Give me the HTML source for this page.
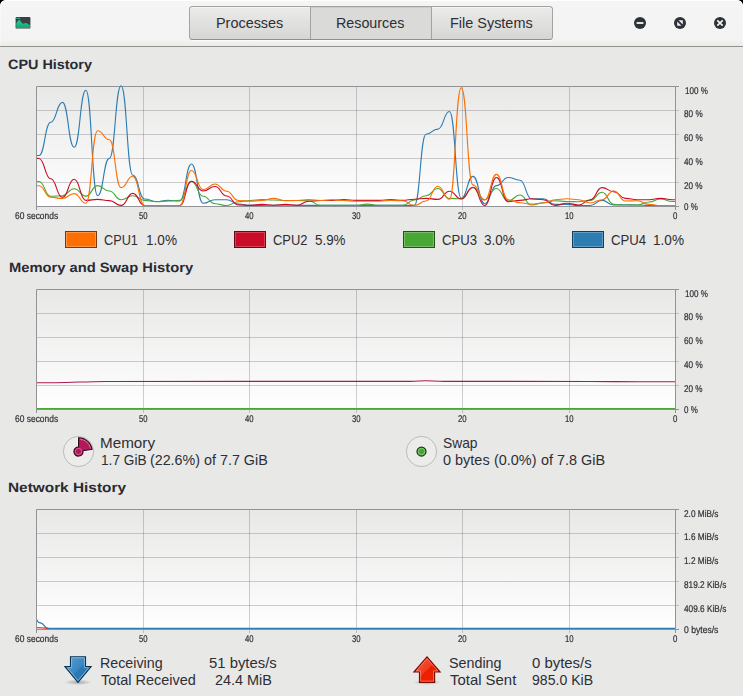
<!DOCTYPE html>
<html><head><meta charset="utf-8"><title>System Monitor</title>
<style>
html,body{margin:0;padding:0;}
body{width:743px;height:696px;overflow:hidden;background:#000;position:relative;font-family:"Liberation Sans",sans-serif;color:#2f2f33;}
#win{position:absolute;left:0;top:0;width:743px;height:696px;background:#e8e8e7;border-radius:6px 6px 0 0;overflow:hidden;}
#tb{position:absolute;left:0;top:0;width:743px;height:46px;background:linear-gradient(#f5f5f5 0,#f3f3f3 40px,#ebebea 46px);border-bottom:1px solid #92928d;border-radius:6px 6px 0 0;box-shadow:inset 0 1px 0 #ffffff, inset 1px 0 0 rgba(255,255,255,.35), inset -1px 0 0 rgba(255,255,255,.35);}
.tabs{position:absolute;left:189px;top:6px;width:364px;height:34px;box-sizing:border-box;border:1px solid #a3a3a0;border-bottom-color:#8f8f8b;border-radius:3.5px;background:linear-gradient(#ebebea,#d6d6d4);box-shadow:inset 0 1px 0 #f4f4f3, 0 1px 0 rgba(255,255,255,.7);}
.tab{position:absolute;top:0;height:32px;line-height:31px;text-align:center;font-size:14.4px;color:#303036;}
.tab.act{background:#dadad8;box-shadow:inset 0 1px 1px rgba(0,0,0,.07);border-left:1px solid #a3a3a0;border-right:1px solid #a3a3a0;box-sizing:border-box;}
.sw{position:absolute;top:231px;width:32px;height:17px;box-sizing:border-box;}
svg{position:absolute;left:0;top:0;}
.x{position:absolute;white-space:nowrap;transform-origin:0 0;line-height:20px;}
.tabt{font-size:14.4px;color:#2e2e35;}
.h{font-weight:bold;font-size:13.5px;color:#2a2a31;text-rendering:geometricPrecision;}
.t{font-size:14.3px;color:#2e2e35;}
.ax{font-size:9.8px;color:#2e2e33;text-rendering:geometricPrecision;-webkit-text-stroke:0.2px #2e2e33;}
#axl{position:absolute;left:0;top:0;width:743px;height:696px;will-change:transform;}
</style></head><body>
<div id="win">
<div id="tb">
  <div class="tabs">
    <div class="tab" style="left:0;width:120px"></div>
    <div class="tab act" style="left:120px;width:122px"></div>
    <div class="tab" style="left:242px;width:120px"></div>
  </div>
</div>

<svg width="743" height="696" viewBox="0 0 743 696">
<defs>
<linearGradient id="bg" x1="0" y1="0" x2="0" y2="1"><stop offset="0" stop-color="#e8e8e7"/><stop offset="1" stop-color="#ffffff"/></linearGradient>
<clipPath id="c1"><rect x="37" y="84" width="638" height="123"/></clipPath>
<clipPath id="c2"><rect x="37" y="289" width="638" height="121"/></clipPath>
<clipPath id="c3"><rect x="37" y="509" width="638" height="121"/></clipPath>

<linearGradient id="gi" x1="0" y1="0" x2="0" y2="1"><stop offset="0" stop-color="#21cf91"/><stop offset="1" stop-color="#11a670"/></linearGradient>
<linearGradient id="ba" x1="0" y1="0" x2="1" y2="1"><stop offset="0" stop-color="#5a9dd0"/><stop offset=".5" stop-color="#3a86c0"/><stop offset=".52" stop-color="#2b79b4"/><stop offset="1" stop-color="#2b79b4"/></linearGradient>
<linearGradient id="ra" x1="0" y1="0" x2="1" y2="1"><stop offset="0" stop-color="#f85a40"/><stop offset=".5" stop-color="#f03a20"/><stop offset=".52" stop-color="#ec2000"/><stop offset="1" stop-color="#ec2000"/></linearGradient>
<radialGradient id="sh"><stop offset="0" stop-color="#000" stop-opacity=".28"/><stop offset="1" stop-color="#000" stop-opacity="0"/></radialGradient>

</defs>
<rect x="36" y="86" width="640" height="121" fill="url(#bg)"/>
<line x1="36.5" y1="110.5" x2="679.0" y2="110.5" stroke="#4c4e58" stroke-opacity="0.27" stroke-width="1"/>
<line x1="36.5" y1="134.5" x2="679.0" y2="134.5" stroke="#4c4e58" stroke-opacity="0.27" stroke-width="1"/>
<line x1="36.5" y1="158.5" x2="679.0" y2="158.5" stroke="#4c4e58" stroke-opacity="0.27" stroke-width="1"/>
<line x1="36.5" y1="182.5" x2="679.0" y2="182.5" stroke="#4c4e58" stroke-opacity="0.27" stroke-width="1"/>
<line x1="143.5" y1="86.5" x2="143.5" y2="210.0" stroke="#4c4e58" stroke-opacity="0.27" stroke-width="1"/>
<line x1="249.5" y1="86.5" x2="249.5" y2="210.0" stroke="#4c4e58" stroke-opacity="0.27" stroke-width="1"/>
<line x1="356.5" y1="86.5" x2="356.5" y2="210.0" stroke="#4c4e58" stroke-opacity="0.27" stroke-width="1"/>
<line x1="462.5" y1="86.5" x2="462.5" y2="210.0" stroke="#4c4e58" stroke-opacity="0.27" stroke-width="1"/>
<line x1="569.5" y1="86.5" x2="569.5" y2="210.0" stroke="#4c4e58" stroke-opacity="0.27" stroke-width="1"/>
<path d="M36.5,210.0 V86.5 H679.0 M675.5,86.5 V210.0 M36.5,206.5 H679.0" fill="none" stroke="#939397" stroke-width="1"/>
<g clip-path="url(#c1)" fill="none" stroke-width="1.12" stroke-linejoin="round"><path d="M27.24,155.00 C33.10,155.00 33.10,155.50 38.97,155.50 C44.84,155.50 44.84,122.20 50.70,122.20 C56.56,122.20 56.56,102.40 62.43,102.40 C68.30,102.40 68.30,147.20 74.16,147.20 C80.03,147.20 80.03,90.30 85.89,90.30 C91.75,90.30 91.75,195.80 97.62,195.80 C103.48,195.80 103.48,158.40 109.35,158.40 C115.22,158.40 115.22,85.70 121.08,85.70 C126.94,85.70 126.94,175.30 132.81,175.30 C138.68,175.30 138.68,199.00 144.54,199.00 C150.41,199.00 150.41,201.50 156.27,201.50 C162.13,201.50 162.13,200.40 168.00,200.40 C173.87,200.40 173.87,201.00 179.73,201.00 C185.59,201.00 185.59,164.00 191.46,164.00 C197.32,164.00 197.32,203.30 203.19,203.30 C209.06,203.30 209.06,199.70 214.92,199.70 C220.79,199.70 220.79,199.70 226.65,199.70 C232.51,199.70 232.51,204.00 238.38,204.00 C244.25,204.00 244.25,205.40 250.11,205.40 C255.98,205.40 255.98,205.40 261.84,205.40 C267.71,205.40 267.71,205.20 273.57,205.20 C279.44,205.20 279.44,205.20 285.30,205.20 C291.16,205.20 291.16,205.40 297.03,205.40 C302.89,205.40 302.89,205.40 308.76,205.40 C314.62,205.40 314.62,205.40 320.49,205.40 C326.36,205.40 326.36,205.40 332.22,205.40 C338.09,205.40 338.09,205.40 343.95,205.40 C349.82,205.40 349.82,205.40 355.68,205.40 C361.55,205.40 361.55,205.40 367.41,205.40 C373.27,205.40 373.27,205.40 379.14,205.40 C385.00,205.40 385.00,205.40 390.87,205.40 C396.74,205.40 396.74,205.40 402.60,205.40 C408.47,205.40 408.47,205.40 414.33,205.40 C420.20,205.40 420.20,134.30 426.06,134.30 C431.93,134.30 431.93,129.10 437.79,129.10 C443.65,129.10 443.65,111.50 449.52,111.50 C455.38,111.50 455.38,198.40 461.25,198.40 C467.12,198.40 467.12,176.40 472.98,176.40 C478.85,176.40 478.85,203.70 484.71,203.70 C490.58,203.70 490.58,185.60 496.44,185.60 C502.31,185.60 502.31,177.50 508.17,177.50 C514.04,177.50 514.04,180.20 519.90,180.20 C525.76,180.20 525.76,199.00 531.63,199.00 C537.50,199.00 537.50,198.80 543.36,198.80 C549.23,198.80 549.23,204.40 555.09,204.40 C560.96,204.40 560.96,204.40 566.82,204.40 C572.69,204.40 572.69,205.50 578.55,205.50 C584.42,205.50 584.42,205.50 590.28,205.50 C596.14,205.50 596.14,200.40 602.01,200.40 C607.88,200.40 607.88,205.00 613.74,205.00 C619.61,205.00 619.61,204.70 625.47,204.70 C631.34,204.70 631.34,205.00 637.20,205.00 C643.07,205.00 643.07,205.40 648.93,205.40 C654.80,205.40 654.80,205.50 660.66,205.50 C666.53,205.50 666.53,205.50 672.39,205.50 C678.26,205.50 678.26,205.50 684.12,205.50" stroke="#2d7db3"/><path d="M27.24,181.00 C33.10,181.00 33.10,181.50 38.97,181.50 C44.84,181.50 44.84,196.30 50.70,196.30 C56.56,196.30 56.56,195.70 62.43,195.70 C68.30,195.70 68.30,188.70 74.16,188.70 C80.03,188.70 80.03,196.10 85.89,196.10 C91.75,196.10 91.75,185.60 97.62,185.60 C103.48,185.60 103.48,191.00 109.35,191.00 C115.22,191.00 115.22,199.70 121.08,199.70 C126.94,199.70 126.94,195.70 132.81,195.70 C138.68,195.70 138.68,200.40 144.54,200.40 C150.41,200.40 150.41,201.70 156.27,201.70 C162.13,201.70 162.13,201.00 168.00,201.00 C173.87,201.00 173.87,200.40 179.73,200.40 C185.59,200.40 185.59,181.50 191.46,181.50 C197.32,181.50 197.32,196.30 203.19,196.30 C209.06,196.30 209.06,203.70 214.92,203.70 C220.79,203.70 220.79,205.50 226.65,205.50 C232.51,205.50 232.51,201.70 238.38,201.70 C244.25,201.70 244.25,200.50 250.11,200.50 C255.98,200.50 255.98,199.60 261.84,199.60 C267.71,199.60 267.71,200.00 273.57,200.00 C279.44,200.00 279.44,200.50 285.30,200.50 C291.16,200.50 291.16,200.50 297.03,200.50 C302.89,200.50 302.89,200.80 308.76,200.80 C314.62,200.80 314.62,205.40 320.49,205.40 C326.36,205.40 326.36,205.40 332.22,205.40 C338.09,205.40 338.09,205.40 343.95,205.40 C349.82,205.40 349.82,205.40 355.68,205.40 C361.55,205.40 361.55,204.10 367.41,204.10 C373.27,204.10 373.27,205.40 379.14,205.40 C385.00,205.40 385.00,205.40 390.87,205.40 C396.74,205.40 396.74,205.40 402.60,205.40 C408.47,205.40 408.47,200.00 414.33,200.00 C420.20,200.00 420.20,195.70 426.06,195.70 C431.93,195.70 431.93,188.50 437.79,188.50 C443.65,188.50 443.65,198.40 449.52,198.40 C455.38,198.40 455.38,198.80 461.25,198.80 C467.12,198.80 467.12,187.60 472.98,187.60 C478.85,187.60 478.85,199.70 484.71,199.70 C490.58,199.70 490.58,188.50 496.44,188.50 C502.31,188.50 502.31,201.00 508.17,201.00 C514.04,201.00 514.04,195.00 519.90,195.00 C525.76,195.00 525.76,205.00 531.63,205.00 C537.50,205.00 537.50,202.80 543.36,202.80 C549.23,202.80 549.23,200.80 555.09,200.80 C560.96,200.80 560.96,201.50 566.82,201.50 C572.69,201.50 572.69,201.70 578.55,201.70 C584.42,201.70 584.42,200.40 590.28,200.40 C596.14,200.40 596.14,192.30 602.01,192.30 C607.88,192.30 607.88,204.40 613.74,204.40 C619.61,204.40 619.61,205.00 625.47,205.00 C631.34,205.00 631.34,205.00 637.20,205.00 C643.07,205.00 643.07,202.00 648.93,202.00 C654.80,202.00 654.80,199.00 660.66,199.00 C666.53,199.00 666.53,201.50 672.39,201.50 C678.26,201.50 678.26,201.50 684.12,201.50" stroke="#49a835"/><path d="M27.24,157.00 C33.10,157.00 33.10,158.50 38.97,158.50 C44.84,158.50 44.84,178.80 50.70,178.80 C56.56,178.80 56.56,197.40 62.43,197.40 C68.30,197.40 68.30,179.20 74.16,179.20 C80.03,179.20 80.03,200.40 85.89,200.40 C91.75,200.40 91.75,199.40 97.62,199.40 C103.48,199.40 103.48,200.60 109.35,200.60 C115.22,200.60 115.22,205.40 121.08,205.40 C126.94,205.40 126.94,193.40 132.81,193.40 C138.68,193.40 138.68,205.50 144.54,205.50 C150.41,205.50 150.41,205.50 156.27,205.50 C162.13,205.50 162.13,205.50 168.00,205.50 C173.87,205.50 173.87,205.50 179.73,205.50 C185.59,205.50 185.59,181.30 191.46,181.30 C197.32,181.30 197.32,191.00 203.19,191.00 C209.06,191.00 209.06,186.50 214.92,186.50 C220.79,186.50 220.79,196.00 226.65,196.00 C232.51,196.00 232.51,204.90 238.38,204.90 C244.25,204.90 244.25,205.40 250.11,205.40 C255.98,205.40 255.98,204.40 261.84,204.40 C267.71,204.40 267.71,205.20 273.57,205.20 C279.44,205.20 279.44,204.40 285.30,204.40 C291.16,204.40 291.16,205.20 297.03,205.20 C302.89,205.20 302.89,201.20 308.76,201.20 C314.62,201.20 314.62,200.50 320.49,200.50 C326.36,200.50 326.36,200.40 332.22,200.40 C338.09,200.40 338.09,199.60 343.95,199.60 C349.82,199.60 349.82,200.40 355.68,200.40 C361.55,200.40 361.55,200.40 367.41,200.40 C373.27,200.40 373.27,200.40 379.14,200.40 C385.00,200.40 385.00,199.60 390.87,199.60 C396.74,199.60 396.74,200.40 402.60,200.40 C408.47,200.40 408.47,199.20 414.33,199.20 C420.20,199.20 420.20,198.40 426.06,198.40 C431.93,198.40 431.93,199.40 437.79,199.40 C443.65,199.40 443.65,191.20 449.52,191.20 C455.38,191.20 455.38,199.00 461.25,199.00 C467.12,199.00 467.12,187.30 472.98,187.30 C478.85,187.30 478.85,205.50 484.71,205.50 C490.58,205.50 490.58,177.50 496.44,177.50 C502.31,177.50 502.31,201.70 508.17,201.70 C514.04,201.70 514.04,200.40 519.90,200.40 C525.76,200.40 525.76,198.80 531.63,198.80 C537.50,198.80 537.50,199.70 543.36,199.70 C549.23,199.70 549.23,205.50 555.09,205.50 C560.96,205.50 560.96,203.30 566.82,203.30 C572.69,203.30 572.69,205.00 578.55,205.00 C584.42,205.00 584.42,199.70 590.28,199.70 C596.14,199.70 596.14,187.60 602.01,187.60 C607.88,187.60 607.88,191.60 613.74,191.60 C619.61,191.60 619.61,198.40 625.47,198.40 C631.34,198.40 631.34,199.70 637.20,199.70 C643.07,199.70 643.07,199.70 648.93,199.70 C654.80,199.70 654.80,198.40 660.66,198.40 C666.53,198.40 666.53,199.70 672.39,199.70 C678.26,199.70 678.26,199.70 684.12,199.70" stroke="#cb0c29"/><path d="M27.24,185.00 C33.10,185.00 33.10,185.80 38.97,185.80 C44.84,185.80 44.84,197.30 50.70,197.30 C56.56,197.30 56.56,198.40 62.43,198.40 C68.30,198.40 68.30,193.60 74.16,193.60 C80.03,193.60 80.03,203.30 85.89,203.30 C91.75,203.30 91.75,130.80 97.62,130.80 C103.48,130.80 103.48,139.80 109.35,139.80 C115.22,139.80 115.22,187.60 121.08,187.60 C126.94,187.60 126.94,176.30 132.81,176.30 C138.68,176.30 138.68,205.50 144.54,205.50 C150.41,205.50 150.41,205.50 156.27,205.50 C162.13,205.50 162.13,205.50 168.00,205.50 C173.87,205.50 173.87,205.50 179.73,205.50 C185.59,205.50 185.59,170.50 191.46,170.50 C197.32,170.50 197.32,189.60 203.19,189.60 C209.06,189.60 209.06,184.00 214.92,184.00 C220.79,184.00 220.79,191.20 226.65,191.20 C232.51,191.20 232.51,200.50 238.38,200.50 C244.25,200.50 244.25,201.20 250.11,201.20 C255.98,201.20 255.98,200.50 261.84,200.50 C267.71,200.50 267.71,198.40 273.57,198.40 C279.44,198.40 279.44,200.80 285.30,200.80 C291.16,200.80 291.16,200.50 297.03,200.50 C302.89,200.50 302.89,199.60 308.76,199.60 C314.62,199.60 314.62,200.50 320.49,200.50 C326.36,200.50 326.36,199.70 332.22,199.70 C338.09,199.70 338.09,200.50 343.95,200.50 C349.82,200.50 349.82,201.20 355.68,201.20 C361.55,201.20 361.55,201.20 367.41,201.20 C373.27,201.20 373.27,201.20 379.14,201.20 C385.00,201.20 385.00,200.40 390.87,200.40 C396.74,200.40 396.74,200.80 402.60,200.80 C408.47,200.80 408.47,205.40 414.33,205.40 C420.20,205.40 420.20,201.00 426.06,201.00 C431.93,201.00 431.93,186.20 437.79,186.20 C443.65,186.20 443.65,199.30 449.52,199.30 C455.38,199.30 455.38,87.70 461.25,87.70 C467.12,87.70 467.12,184.90 472.98,184.90 C478.85,184.90 478.85,200.00 484.71,200.00 C490.58,200.00 490.58,174.40 496.44,174.40 C502.31,174.40 502.31,199.70 508.17,199.70 C514.04,199.70 514.04,202.80 519.90,202.80 C525.76,202.80 525.76,204.10 531.63,204.10 C537.50,204.10 537.50,203.00 543.36,203.00 C549.23,203.00 549.23,199.70 555.09,199.70 C560.96,199.70 560.96,198.80 566.82,198.80 C572.69,198.80 572.69,199.70 578.55,199.70 C584.42,199.70 584.42,203.00 590.28,203.00 C596.14,203.00 596.14,199.70 602.01,199.70 C607.88,199.70 607.88,191.00 613.74,191.00 C619.61,191.00 619.61,201.00 625.47,201.00 C631.34,201.00 631.34,200.80 637.20,200.80 C643.07,200.80 643.07,204.40 648.93,204.40 C654.80,204.40 654.80,205.50 660.66,205.50 C666.53,205.50 666.53,205.50 672.39,205.50 C678.26,205.50 678.26,205.50 684.12,205.50" stroke="#ff6e00"/></g>
<rect x="36" y="289" width="640" height="121" fill="url(#bg)"/>
<line x1="36.5" y1="313.5" x2="679.0" y2="313.5" stroke="#4c4e58" stroke-opacity="0.27" stroke-width="1"/>
<line x1="36.5" y1="337.5" x2="679.0" y2="337.5" stroke="#4c4e58" stroke-opacity="0.27" stroke-width="1"/>
<line x1="36.5" y1="361.5" x2="679.0" y2="361.5" stroke="#4c4e58" stroke-opacity="0.27" stroke-width="1"/>
<line x1="36.5" y1="385.5" x2="679.0" y2="385.5" stroke="#4c4e58" stroke-opacity="0.27" stroke-width="1"/>
<line x1="143.5" y1="289.5" x2="143.5" y2="413.0" stroke="#4c4e58" stroke-opacity="0.27" stroke-width="1"/>
<line x1="249.5" y1="289.5" x2="249.5" y2="413.0" stroke="#4c4e58" stroke-opacity="0.27" stroke-width="1"/>
<line x1="356.5" y1="289.5" x2="356.5" y2="413.0" stroke="#4c4e58" stroke-opacity="0.27" stroke-width="1"/>
<line x1="462.5" y1="289.5" x2="462.5" y2="413.0" stroke="#4c4e58" stroke-opacity="0.27" stroke-width="1"/>
<line x1="569.5" y1="289.5" x2="569.5" y2="413.0" stroke="#4c4e58" stroke-opacity="0.27" stroke-width="1"/>
<path d="M36.5,413.0 V289.5 H679.0 M675.5,289.5 V413.0 M36.5,409.5 H679.0" fill="none" stroke="#939397" stroke-width="1"/>
<g clip-path="url(#c2)" fill="none"><path d="M36,382.7 L55,382.7 C75,382.5 85,381.6 105,381.45 L410,381.35 C418,381.3 420,380.7 426,380.7 C432,380.7 434,381.2 445,381.35 L590,381.45 C610,381.5 620,381.7 640,381.7 L676,381.7" stroke="#ab1852" stroke-width="1.1"/><line x1="36" y1="408.5" x2="676" y2="408.5" stroke="#49a835" stroke-width="1.25"/></g>
<rect x="36" y="509" width="640" height="121" fill="url(#bg)"/>
<line x1="36.5" y1="533.5" x2="679.0" y2="533.5" stroke="#4c4e58" stroke-opacity="0.27" stroke-width="1"/>
<line x1="36.5" y1="557.5" x2="679.0" y2="557.5" stroke="#4c4e58" stroke-opacity="0.27" stroke-width="1"/>
<line x1="36.5" y1="581.5" x2="679.0" y2="581.5" stroke="#4c4e58" stroke-opacity="0.27" stroke-width="1"/>
<line x1="36.5" y1="605.5" x2="679.0" y2="605.5" stroke="#4c4e58" stroke-opacity="0.27" stroke-width="1"/>
<line x1="143.5" y1="509.5" x2="143.5" y2="633.0" stroke="#4c4e58" stroke-opacity="0.27" stroke-width="1"/>
<line x1="249.5" y1="509.5" x2="249.5" y2="633.0" stroke="#4c4e58" stroke-opacity="0.27" stroke-width="1"/>
<line x1="356.5" y1="509.5" x2="356.5" y2="633.0" stroke="#4c4e58" stroke-opacity="0.27" stroke-width="1"/>
<line x1="462.5" y1="509.5" x2="462.5" y2="633.0" stroke="#4c4e58" stroke-opacity="0.27" stroke-width="1"/>
<line x1="569.5" y1="509.5" x2="569.5" y2="633.0" stroke="#4c4e58" stroke-opacity="0.27" stroke-width="1"/>
<path d="M36.5,633.0 V509.5 H679.0 M675.5,509.5 V633.0 M36.5,629.5 H679.0" fill="none" stroke="#939397" stroke-width="1"/>
<g clip-path="url(#c3)" fill="none"><path d="M36,627.6 C40,627.6 43,627.8 48.5,628.5" stroke="#ee3a2c" stroke-width="1.3"/><path d="M36,618.4 C37,620.6 37.5,621.8 38.5,622.3 C40,622.9 41,623 41.8,623.4 C44.5,624.6 45,628.45 48.5,628.45 L676,628.45" stroke="#2d7db3" stroke-width="1.25"/></g>

<!-- app icon -->
<g>
<rect x="15.6" y="17" width="14.8" height="11.6" rx="1.2" fill="#3b4045"/>
<path d="M16.2,28 V23.5 C17.5,21.5 18.2,20 19.2,20 C20.6,20 21.2,23.3 23,23.6 C24.3,23.8 25,22.9 26,22.9 C27.2,22.9 28.5,24.6 29.9,24.9 V28 Z" fill="url(#gi)"/>
<rect x="16.3" y="17.9" width="4" height="0.9" fill="#1fc58b"/>
</g>
<!-- window buttons -->
<g fill="#2d3237">
<circle cx="640" cy="23" r="6"/><circle cx="680" cy="23" r="6"/><circle cx="720" cy="23" r="6"/>
</g>
<rect x="636.6" y="22" width="6.8" height="2" fill="#e4e4e4"/>
<path d="M678.6,20.2 H682.8 V24.4 Z M677.2,21.6 V25.8 H681.4 Z" fill="#f0f0f0"/>
<path d="M717.3,20.3 L722.7,25.7 M722.7,20.3 L717.3,25.7" stroke="#f4f4f4" stroke-width="1.7" fill="none"/>

<!-- memory pie -->
<circle cx="78.5" cy="451.5" r="15.1" fill="#ececeb" stroke="#b4b4b4" stroke-width="0.9"/>
<path d="M78.5,437.8 A13.7,13.7 0 0 1 92.05,449.45 L83.05,450.81 A4.6,4.6 0 1 1 78.5,446.9 Z" fill="#b2185a" stroke="#2e0718" stroke-width="1.1" stroke-linejoin="round"/>
<path d="M79.9,439.2 A12.4,12.4 0 0 1 90.6,448.6" fill="none" stroke="#dc7aa3" stroke-width="0.9"/>
<circle cx="78.5" cy="451.5" r="3.2" fill="none" stroke="#dc7aa3" stroke-width="0.8"/>
<path d="M77.5,437.6 V446.4" stroke="#ffffff" stroke-width="0.9" opacity=".85"/>
<path d="M83.6,451.7 L92.6,450.4" stroke="#ffffff" stroke-width="0.8" opacity=".6"/>
<!-- swap -->
<circle cx="421.5" cy="451.5" r="15.1" fill="#ececeb" stroke="#b4b4b4" stroke-width="0.9"/>
<circle cx="421.5" cy="451.5" r="4.5" fill="#45a52f" stroke="#1a3912" stroke-width="1.25"/>
<circle cx="421.5" cy="451.5" r="3.2" fill="none" stroke="#93d482" stroke-width="0.8"/>

<!-- down arrow -->
<ellipse cx="78" cy="682.3" rx="14" ry="2.8" fill="url(#sh)"/>
<path d="M70.5,656.7 H85.5 V666.6 H91.1 L78,682.4 L64.9,666.6 H70.5 Z" fill="url(#ba)" stroke="#0b3354" stroke-width="1.15" stroke-linejoin="miter"/>
<path d="M71.6,657.8 H84.4 V667.7 H88.7 L78,680.7 L67.3,667.7 H71.6 Z" fill="none" stroke="#9ccbec" stroke-width="0.8" opacity=".9"/>
<!-- up arrow -->
<ellipse cx="427" cy="682.3" rx="14" ry="2.8" fill="url(#sh)"/>
<path d="M427,656.8 L440.1,672 H434.6 V682.3 H419.5 V672 H413.9 Z" fill="url(#ra)" stroke="#760b00" stroke-width="1.15" stroke-linejoin="miter"/>
<path d="M427,658.5 L437.7,670.9 H433.5 V681.2 H420.6 V670.9 H416.3 Z" fill="none" stroke="#ff9b8a" stroke-width="0.8" opacity=".8"/>

</svg>

<div class="x tabt" style="left:216.00px;top:13px;transform:scaleX(1.0017)">Processes</div>
<div class="x tabt" style="left:336.01px;top:13px;transform:scaleX(0.9928)">Resources</div>
<div class="x tabt" style="left:449.75px;top:13px;transform:scaleX(1.0035)">File Systems</div>
<div class="x h" style="left:8.40px;top:55px;transform:scaleX(1.0661)">CPU History</div>
<div class="x h" style="left:8.90px;top:258px;transform:scaleX(1.0905)">Memory and Swap History</div>
<div class="x h" style="left:8.40px;top:478px;transform:scaleX(1.1392)">Network History</div>
<div class="x t" style="left:103.60px;top:230px;transform:scaleX(0.8878)">CPU1</div>
<div class="x t" style="left:145.85px;top:230px;transform:scaleX(0.9506)">1.0%</div>
<div class="x t" style="left:272.70px;top:230px;transform:scaleX(0.9061)">CPU2</div>
<div class="x t" style="left:314.90px;top:230px;transform:scaleX(0.9339)">5.9%</div>
<div class="x t" style="left:441.50px;top:230px;transform:scaleX(0.9192)">CPU3</div>
<div class="x t" style="left:483.60px;top:230px;transform:scaleX(0.9460)">3.0%</div>
<div class="x t" style="left:610.50px;top:230px;transform:scaleX(0.9218)">CPU4</div>
<div class="x t" style="left:652.75px;top:230px;transform:scaleX(0.9506)">1.0%</div>
<div class="x t" style="left:99.78px;top:433px;transform:scaleX(1.0654)">Memory</div>
<div class="x t" style="left:100.64px;top:450px;transform:scaleX(0.9557)">1.7 GiB</div>
<div class="x t" style="left:149.80px;top:450px;transform:scaleX(0.9980)">(22.6%)</div>
<div class="x t" style="left:203.80px;top:450px;transform:scaleX(1.0026)">of 7.7 GiB</div>
<div class="x t" style="left:443.20px;top:433px;transform:scaleX(0.9662)">Swap</div>
<div class="x t" style="left:443.30px;top:450px;transform:scaleX(1.0120)">0 bytes</div>
<div class="x t" style="left:494.10px;top:450px;transform:scaleX(1.0085)">(0.0%)</div>
<div class="x t" style="left:540.60px;top:450px;transform:scaleX(1.0089)">of 7.8 GiB</div>
<div class="x t" style="left:100.20px;top:653px;transform:scaleX(0.9979)">Receiving</div>
<div class="x t" style="left:100.70px;top:670px;transform:scaleX(1.0115)">Total Received</div>
<div class="x t" style="left:208.70px;top:653px;transform:scaleX(1.0397)">51 bytes/s</div>
<div class="x t" style="left:214.60px;top:670px;transform:scaleX(1.0074)">24.4 MiB</div>
<div class="x t" style="left:449.10px;top:653px;transform:scaleX(1.0016)">Sending</div>
<div class="x t" style="left:449.50px;top:670px;transform:scaleX(1.0423)">Total Sent</div>
<div class="x t" style="left:531.50px;top:653px;transform:scaleX(1.0426)">0 bytes/s</div>
<div class="x t" style="left:531.50px;top:670px;transform:scaleX(0.9844)">985.0 KiB</div>
<div id="axl">
<div class="x ax" style="left:684.90px;top:82px;transform:scaleX(0.8230)">100 %</div>
<div class="x ax" style="left:684.10px;top:105px;transform:scaleX(0.8356)">80 %</div>
<div class="x ax" style="left:684.10px;top:129px;transform:scaleX(0.8356)">60 %</div>
<div class="x ax" style="left:684.10px;top:153px;transform:scaleX(0.8356)">40 %</div>
<div class="x ax" style="left:684.20px;top:177px;transform:scaleX(0.8312)">20 %</div>
<div class="x ax" style="left:684.00px;top:198px;transform:scaleX(0.8154)">0 %</div>
<div class="x ax" style="left:15.25px;top:207px;transform:scaleX(0.8614)">60 seconds</div>
<div class="x ax" style="left:139.40px;top:207px;transform:scaleX(0.7861)">50</div>
<div class="x ax" style="left:245.40px;top:207px;transform:scaleX(0.7861)">40</div>
<div class="x ax" style="left:352.40px;top:207px;transform:scaleX(0.7861)">30</div>
<div class="x ax" style="left:458.40px;top:207px;transform:scaleX(0.7861)">20</div>
<div class="x ax" style="left:565.40px;top:207px;transform:scaleX(0.7861)">10</div>
<div class="x ax" style="left:673.10px;top:207px;transform:scaleX(0.8000)">0</div>
<div class="x ax" style="left:684.90px;top:285px;transform:scaleX(0.8230)">100 %</div>
<div class="x ax" style="left:684.10px;top:308px;transform:scaleX(0.8356)">80 %</div>
<div class="x ax" style="left:684.10px;top:332px;transform:scaleX(0.8356)">60 %</div>
<div class="x ax" style="left:684.10px;top:356px;transform:scaleX(0.8356)">40 %</div>
<div class="x ax" style="left:684.20px;top:380px;transform:scaleX(0.8312)">20 %</div>
<div class="x ax" style="left:684.00px;top:401px;transform:scaleX(0.8154)">0 %</div>
<div class="x ax" style="left:15.25px;top:410px;transform:scaleX(0.8614)">60 seconds</div>
<div class="x ax" style="left:139.40px;top:410px;transform:scaleX(0.7861)">50</div>
<div class="x ax" style="left:245.40px;top:410px;transform:scaleX(0.7861)">40</div>
<div class="x ax" style="left:352.40px;top:410px;transform:scaleX(0.7861)">30</div>
<div class="x ax" style="left:458.40px;top:410px;transform:scaleX(0.7861)">20</div>
<div class="x ax" style="left:565.40px;top:410px;transform:scaleX(0.7861)">10</div>
<div class="x ax" style="left:673.10px;top:410px;transform:scaleX(0.8000)">0</div>
<div class="x ax" style="left:684.20px;top:505px;transform:scaleX(0.8428)">2.0 MiB/s</div>
<div class="x ax" style="left:684.20px;top:528px;transform:scaleX(0.8428)">1.6 MiB/s</div>
<div class="x ax" style="left:684.20px;top:552px;transform:scaleX(0.8428)">1.2 MiB/s</div>
<div class="x ax" style="left:684.20px;top:576px;transform:scaleX(0.8445)">819.2 KiB/s</div>
<div class="x ax" style="left:684.20px;top:600px;transform:scaleX(0.8445)">409.6 KiB/s</div>
<div class="x ax" style="left:684.20px;top:621px;transform:scaleX(0.8777)">0 bytes/s</div>
<div class="x ax" style="left:15.25px;top:630px;transform:scaleX(0.8614)">60 seconds</div>
<div class="x ax" style="left:139.40px;top:630px;transform:scaleX(0.7861)">50</div>
<div class="x ax" style="left:245.40px;top:630px;transform:scaleX(0.7861)">40</div>
<div class="x ax" style="left:352.40px;top:630px;transform:scaleX(0.7861)">30</div>
<div class="x ax" style="left:458.40px;top:630px;transform:scaleX(0.7861)">20</div>
<div class="x ax" style="left:565.40px;top:630px;transform:scaleX(0.7861)">10</div>
<div class="x ax" style="left:673.10px;top:630px;transform:scaleX(0.8000)">0</div>
</div>

<div class="sw" style="left:65px;background:#ff6e00;border:1px solid #7a3a08;box-shadow:inset 0 0 0 1px rgba(255,255,255,.28)"></div>
<div class="sw" style="left:234px;background:#cb0c29;border:1px solid #5e0a17;box-shadow:inset 0 0 0 1px rgba(255,255,255,.22)"></div>
<div class="sw" style="left:403px;background:#49a835;border:1px solid #25501c;box-shadow:inset 0 0 0 1px rgba(255,255,255,.25)"></div>
<div class="sw" style="left:572px;background:#2d7db3;border:1px solid #183c55;box-shadow:inset 0 0 0 1px rgba(255,255,255,.25)"></div>



</div>
</body></html>
